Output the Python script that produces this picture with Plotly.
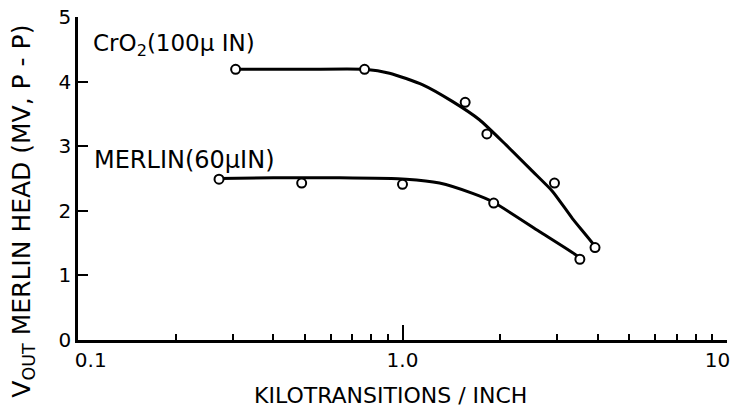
import plotly.graph_objects as go

# Measured points (kilotransitions/inch, mV p-p)
cro2_x = [0.306, 0.764, 1.56, 1.82, 2.94, 3.92]
cro2_y = [4.19, 4.19, 3.68, 3.19, 2.43, 1.43]
merlin_x = [0.272, 0.489, 1.0, 1.91, 3.52]
merlin_y = [2.49, 2.43, 2.41, 2.12, 1.25]

# Smooth hand-drawn fit curves
cro2_fit_x = [0.306, 0.5, 0.764, 0.912, 1.155, 1.428, 1.726, 2.085, 2.518, 2.90, 3.34, 3.85, 3.92]
cro2_fit_y = [4.19, 4.19, 4.19, 4.13, 3.95, 3.69, 3.41, 3.02, 2.61, 2.30, 1.88, 1.50, 1.43]
merlin_fit_x = [0.272, 0.4, 0.64, 1.026, 1.30, 1.645, 1.896, 2.64, 3.46, 3.52]
merlin_fit_y = [2.50, 2.51, 2.51, 2.49, 2.43, 2.27, 2.14, 1.68, 1.30, 1.26]

x_tick_vals = [0.1, 1.0, 10]
x_tick_text = ["\u00a0\u00a0\u00a0\u00a00.1", "1.0", "10\u00a0\u00a0\u00a0"]
x_minor_vals = [0.2, 0.3, 0.4, 0.5, 0.6, 0.7, 0.8, 0.9,
                2, 3, 4, 5, 6, 7, 8, 9]
y_tick_vals = [0, 1, 2, 3, 4, 5]

FONT = "DejaVu Sans"
fig = go.Figure()

for fx, fy in [(cro2_fit_x, cro2_fit_y), (merlin_fit_x, merlin_fit_y)]:
    fig.add_trace(go.Scatter(x=fx, y=fy, mode="lines",
                             line=dict(color="black", width=3, shape="spline", smoothing=0.6),
                             showlegend=False, hoverinfo="skip"))

for px_, py_ in [(cro2_x, cro2_y), (merlin_x, merlin_y)]:
    fig.add_trace(go.Scatter(x=px_, y=py_, mode="markers",
                             marker=dict(symbol="circle", size=9, color="white",
                                         line=dict(color="black", width=2)),
                             showlegend=False))

# page body has an 8px margin, so the figure is 8px smaller than the window
fig.update_layout(
    width=732, height=408,
    margin=dict(l=70, r=13, t=9, b=76),
    paper_bgcolor="white", plot_bgcolor="white",
    font=dict(family=FONT, color="black", size=19),
    xaxis=dict(type="log", range=[-1, 1], showgrid=False, zeroline=False,
               automargin=False, ticklabeloverflow="allow",
               showline=True, linecolor="black", linewidth=2.5,
               tickmode="array", tickvals=x_tick_vals, ticktext=x_tick_text,
               ticks="inside", ticklen=15, tickwidth=2, tickcolor="black",
               minor=dict(tickmode="array", tickvals=x_minor_vals, ticks="inside",
                          ticklen=6, tickwidth=2, tickcolor="black", showgrid=False),
               tickfont=dict(size=20)),
    yaxis=dict(range=[0, 5], showgrid=False, zeroline=False,
               automargin=False, ticklabeloverflow="allow",
               showline=True, linecolor="black", linewidth=2.5,
               tickmode="array", tickvals=y_tick_vals,
               ticks="inside", ticklen=10, tickwidth=2, tickcolor="black",
               tickfont=dict(size=20)),
    annotations=[
        dict(text="KILOTRANSITIONS / INCH", xref="paper", yref="paper",
             x=0.482, y=-0.173, xanchor="center", yanchor="middle",
             showarrow=False, font=dict(size=22)),
        dict(text="V<sub>OUT</sub> MERLIN HEAD (MV, P - P)", textangle=-90,
             xref="paper", yref="paper", x=-0.085, y=0.40,
             xanchor="center", yanchor="middle", showarrow=False,
             font=dict(size=25)),
        dict(text="CrO<sub>2</sub>(100μ IN)", xref="paper", yref="y",
             x=0.02, y=4.57, xanchor="left", yanchor="middle",
             showarrow=False, font=dict(size=23)),
        dict(text="MERLIN(60μIN)", xref="paper", yref="y",
             x=0.022, y=2.79, xanchor="left", yanchor="middle",
             showarrow=False, font=dict(size=24)),
    ],
)

fig.write_html("out.html")
